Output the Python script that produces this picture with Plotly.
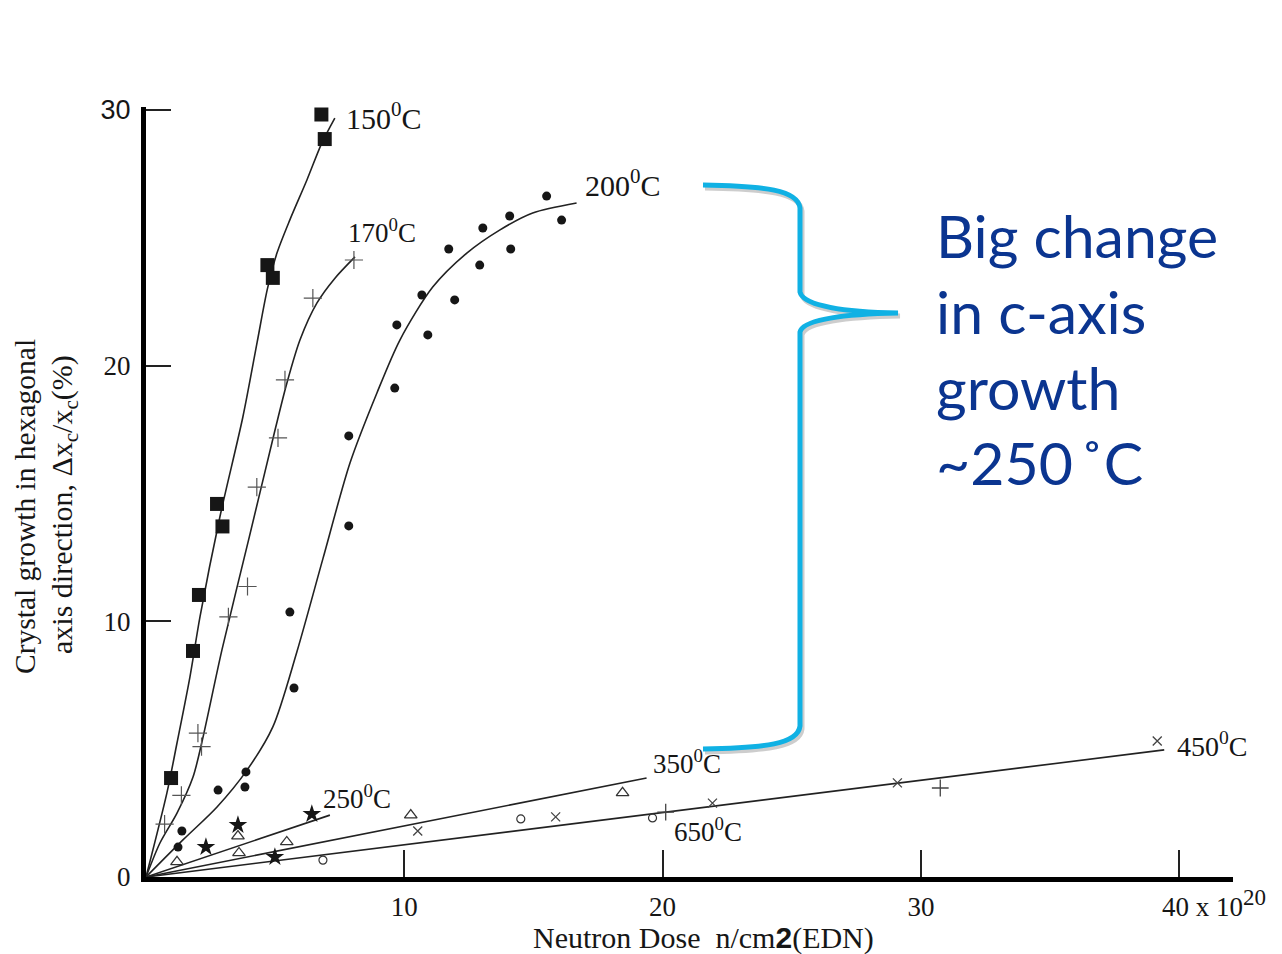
import plotly.graph_objects as go

# ---------------- data ----------------
# 150 C : filled squares
dose_150 = [0.97, 1.82, 2.05, 2.75, 2.96, 4.70, 4.91, 6.79, 6.92]
growth_150 = [3.87, 8.84, 11.03, 14.59, 13.71, 23.93, 23.43, 29.82, 28.86]

# 170 C : thin crosses
dose_170 = [0.72, 1.37, 2.01, 2.15, 3.19, 3.93, 4.29, 5.11, 5.38, 6.46, 8.05]
growth_170 = [2.07, 3.19, 5.63, 5.10, 10.17, 11.36, 15.25, 17.17, 19.44, 22.64, 24.13]

# 200 C : filled circles
dose_200 = [1.24, 1.39, 2.79, 3.83, 3.87, 5.57, 5.73, 7.85, 7.85, 9.63, 9.71,
            10.68, 10.91, 11.72, 11.95, 12.92, 13.04, 14.08, 14.12, 15.51, 16.09]
growth_200 = [1.17, 1.80, 3.40, 3.52, 4.11, 10.36, 7.39, 13.73, 17.25, 19.12, 21.59,
              22.76, 21.20, 24.56, 22.57, 23.93, 25.38, 25.85, 24.56, 26.63, 25.69]

# 250 C : stars
dose_250 = [2.32, 3.56, 4.99, 6.42]
growth_250 = [1.17, 2.03, 0.78, 2.46]

# 350 C : open triangles
dose_350 = [1.20, 3.56, 3.60, 5.45, 10.25, 18.45]
growth_350 = [0.59, 1.60, 0.94, 1.37, 2.42, 3.29]

# 650 C : open circles
dose_650 = [6.85, 14.51, 19.61]
growth_650 = [0.66, 2.27, 2.31]

# 450 C : x marks and crosses
dose_450 = [10.52, 15.86, 21.93, 29.09, 39.15]
growth_450 = [1.80, 2.35, 2.89, 3.68, 5.32]
dose_450b = [20.12, 30.75]
growth_450b = [2.54, 3.48]

# hand-drawn trend curves
fit_150_x = [0, 0.81, 1.20, 1.70, 2.09, 2.86, 3.75, 4.30, 4.70, 5.07, 5.57, 6.23, 6.81, 7.31]
fit_150_y = [0, 3.29, 5.24, 7.82, 10.17, 14.08, 17.99, 20.90, 23.00, 24.40, 25.70, 27.26, 28.71, 29.68]
fit_170_x = [0, 0.54, 1.20, 1.82, 2.17, 2.94, 4.00, 5.00, 5.45, 5.96, 6.62, 7.30, 8.09]
fit_170_y = [0, 1.33, 2.50, 3.91, 5.30, 8.88, 13.30, 17.50, 19.30, 21.00, 22.45, 23.40, 24.25]
fit_200_x = [0, 1.43, 2.75, 3.91, 4.91, 5.84, 6.85, 7.90, 8.94, 9.83, 11.10, 12.42, 13.69, 14.97, 16.67]
fit_200_y = [0, 1.45, 2.74, 4.18, 5.87, 8.80, 12.45, 16.20, 18.93, 21.00, 23.07, 24.40, 25.30, 25.97, 26.36]
fit_250_x = [0, 7.12]
fit_250_y = [0, 2.42]
fit_350_x = [0, 19.38]
fit_350_y = [0, 3.87]
fit_450_x = [0, 39.42]
fit_450_y = [0, 4.97]

# labels
curve_labels = ["150<sup>0</sup>C", "170<sup>0</sup>C", "200<sup>0</sup>C", "250<sup>0</sup>C",
                "350<sup>0</sup>C", "650<sup>0</sup>C", "450<sup>0</sup>C"]
label_x = [7.66, 7.74, 16.91, 6.77, 19.57, 20.35, 39.85]
label_y = [29.76, 25.26, 27.14, 3.13, 4.50, 1.84, 5.20]
label_size = [30, 27, 30, 27, 27, 27, 28]

x_ticks = [10, 20, 30, 40]
x_ticktext = ["10", "20", "30", ""]
last_tick_text = "40 x 10<sup><span style='font-size:23px'>20</span></sup>"
y_ticks = [0, 10, 20, 30]
y_ticktext = ["0", "10", "20", "<span style='font-family:Liberation Sans, Arial'>30</span>"]

note_lines = ["Big change", "in c-axis", "growth", "~250\u2009\u02daC"]

# ---------------- figure ----------------
W, H = 1282, 954
SERIF = "Liberation Serif, Times New Roman, serif"
INK = "#161616"


def px(x):
    return x / W


def py(y):
    return 1 - y / H


fig = go.Figure()

for fx, fy in [(fit_150_x, fit_150_y), (fit_170_x, fit_170_y), (fit_200_x, fit_200_y),
               (fit_250_x, fit_250_y), (fit_350_x, fit_350_y), (fit_450_x, fit_450_y)]:
    fig.add_trace(go.Scatter(x=fx, y=fy, mode="lines",
                             line=dict(color="#222222", width=1.6, shape="spline", smoothing=0.8),
                             hoverinfo="skip", showlegend=False, cliponaxis=False))

marker_sets = [
    (dose_150, growth_150, dict(symbol="square", size=14, color=INK)),
    (dose_170, growth_170, dict(symbol="cross-thin-open", size=13, color="#555555", line=dict(width=1.2, color="#555555"))),
    (dose_200, growth_200, dict(symbol="circle", size=9, color=INK)),
    (dose_250, growth_250, dict(symbol="star", size=14, color=INK)),
    (dose_350, growth_350, dict(symbol="triangle-up-open", size=11, color="#333333", line=dict(width=1.3, color="#333333"))),
    (dose_650, growth_650, dict(symbol="circle-open", size=8, color="#333333", line=dict(width=1.2, color="#333333"))),
    (dose_450, growth_450, dict(symbol="x-thin-open", size=9, color="#444444", line=dict(width=1.3, color="#444444"))),
    (dose_450b, growth_450b, dict(symbol="cross-thin-open", size=12, color="#444444", line=dict(width=1.3, color="#444444"))),
]
for mx, my, mk in marker_sets:
    fig.add_trace(go.Scatter(x=mx, y=my, mode="markers", marker=mk,
                             hoverinfo="skip", showlegend=False, cliponaxis=False))

annotations = []
for t, lx, ly, s in zip(curve_labels, label_x, label_y, label_size):
    annotations.append(dict(x=lx, y=ly, xref="x", yref="y", text=t, showarrow=False,
                            xanchor="left", yanchor="middle",
                            font=dict(family=SERIF, size=s, color=INK)))

# last x tick label (sits left-aligned on the 40 tick)
annotations.append(dict(x=px(1160), y=py(903), xref="paper", yref="paper",
                        text=last_tick_text, showarrow=False, xanchor="left", yanchor="middle",
                        font=dict(family=SERIF, size=27, color=INK)))

# axis titles
annotations.append(dict(x=px(703), y=py(938), xref="paper", yref="paper",
                        text="Neutron Dose&nbsp; n/cm<span style='font-family:Liberation Sans, Arial;font-weight:bold'>2</span>(EDN)",
                        showarrow=False, xanchor="center", yanchor="middle",
                        font=dict(family=SERIF, size=30, color=INK)))
annotations.append(dict(x=px(25), y=py(507), xref="paper", yref="paper",
                        text="Crystal growth in hexagonal", textangle=-90,
                        showarrow=False, xanchor="center", yanchor="middle",
                        font=dict(family=SERIF, size=29.5, color=INK)))
annotations.append(dict(x=px(64), y=py(505), xref="paper", yref="paper",
                        text="axis direction, \u0394x<sub>c</sub>/x<sub>c</sub>(%)", textangle=-90,
                        showarrow=False, xanchor="center", yanchor="middle",
                        font=dict(family=SERIF, size=30, color=INK)))

# big note
for i, t in enumerate(note_lines):
    annotations.append(dict(x=px(934), y=py(236 + 75.5 * i), xref="paper", yref="paper",
                            text=t, showarrow=False, xanchor="left", yanchor="middle",
                            font=dict(family="Lato, Open Sans, sans-serif", size=59, color="#0B3590")))

# curly brace (shadow + stroke)
brace = ("M {a},{b} C {c},{d} {e},{f} {g},{h} L {g},{i} C {j},{k} {l},{m} {n},{o} "
         "C {l},{p} {j},{q} {g},{r} L {g},{s} C {e},{t} {c},{u} {a},{v}")


def brace_path(dx=0, dy=0):
    X = lambda v: f"{px(v + dx):.5f}"
    Y = lambda v: f"{py(v + dy):.5f}"
    return brace.format(a=X(703), b=Y(185), c=X(765), d=Y(186), e=X(798), f=Y(190), g=X(800), h=Y(208),
                        i=Y(292), j=X(803), k=Y(306), l=X(845), m=Y(312), n=X(898), o=Y(313),
                        p=Y(314), q=Y(319), r=Y(332), s=Y(726), t=Y(744), u=Y(748), v=Y(749))


shapes = [
    dict(type="path", xref="paper", yref="paper", path=brace_path(2, 3),
         line=dict(color="rgba(90,90,90,0.30)", width=5)),
    dict(type="path", xref="paper", yref="paper", path=brace_path(),
         line=dict(color="#10B1E4", width=5)),
]

x0_px, x_unit = 146.0, 25.83
y0_px, y_unit = 877.0, 25.57
x_max, y_max = 42.1, 30.1

fig.update_layout(
    width=W, height=H, autosize=False,
    margin=dict(l=0, r=0, t=0, b=0, pad=0, autoexpand=False),
    paper_bgcolor="white", plot_bgcolor="white",
    showlegend=False,
    xaxis=dict(domain=[x0_px / W, (x0_px + x_max * x_unit) / W], range=[0, x_max],
               automargin=False,
               showgrid=False, zeroline=False, showline=True, linecolor="black", linewidth=5,
               ticks="inside", ticklen=27, tickwidth=1.5, tickcolor="#222222",
               tickvals=x_ticks, ticktext=x_ticktext, ticklabelstandoff=2,
               tickfont=dict(family=SERIF, size=27, color=INK)),
    yaxis=dict(domain=[(H - y0_px) / H, (H - y0_px + y_max * y_unit) / H], range=[0, y_max],
               automargin=False,
               showgrid=False, zeroline=False, showline=True, linecolor="black", linewidth=5,
               ticks="inside", ticklen=25, tickwidth=1.5, tickcolor="#222222",
               tickvals=y_ticks, ticktext=y_ticktext, ticklabelstandoff=5,
               tickfont=dict(family=SERIF, size=27, color=INK)),
    annotations=annotations,
    shapes=shapes,
)

fig.write_html("out.html")
